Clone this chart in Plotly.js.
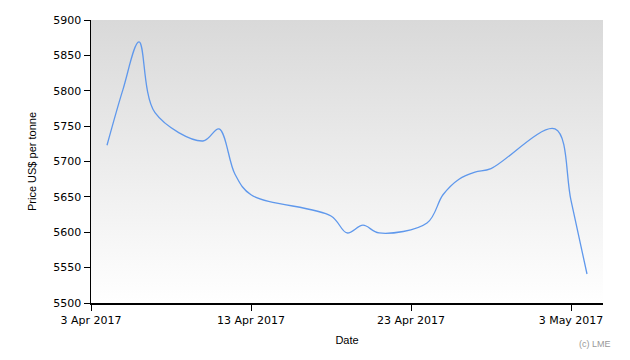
<!DOCTYPE html>
<html>
<head>
<meta charset="utf-8">
<script src="https://cdn.plot.ly/plotly-3.0.1.min.js"></script>
<style>html,body{margin:0;padding:0;background:#fff;}#chart{width:630px;height:360px;}</style>
</head>
<body>
<div id="chart"></div>
<script>
var dates = ['2017-04-04','2017-04-05','2017-04-06','2017-04-07','2017-04-10','2017-04-11','2017-04-12','2017-04-13',
             '2017-04-18','2017-04-19','2017-04-20','2017-04-21','2017-04-24','2017-04-25','2017-04-26','2017-04-27',
             '2017-04-28','2017-05-02','2017-05-03','2017-05-04'];
var prices = [5723, 5802, 5869, 5769, 5729, 5746, 5682, 5653,
              5623, 5599, 5610, 5599, 5613, 5653, 5675, 5685,
              5690, 5746, 5645, 5541];
var xTickStart = '2017-04-03';
var xRange = ['2017-04-03', '2017-05-05'];
var yRange = [5500, 5900];

var grad = 'data:image/svg+xml;charset=utf-8,' + encodeURIComponent(
  '<svg xmlns="http://www.w3.org/2000/svg" width="10" height="100" preserveAspectRatio="none">' +
  '<defs><linearGradient id="g" x1="0" y1="0" x2="0" y2="1">' +
  '<stop offset="0" stop-color="#d9d9d9"/><stop offset="1" stop-color="#ffffff"/></linearGradient></defs>' +
  '<rect width="10" height="100" fill="url(#g)"/></svg>');

var trace = {
  x: dates, y: prices, type: 'scatter', mode: 'lines',
  line: {color: '#5f98ec', width: 1.3, shape: 'spline', smoothing: 1},
  hoverinfo: 'x+y'
};

var layout = {
  width: 630, height: 360,
  margin: {l: 91, r: 27, t: 20, b: 57},
  paper_bgcolor: '#ffffff',
  plot_bgcolor: 'rgba(0,0,0,0)',
  showlegend: false,
  font: {family: 'DejaVu Sans, Verdana, sans-serif', size: 11, color: '#000'},
  images: [{source: grad, xref: 'paper', yref: 'paper', x: 0, y: 1, sizex: 1, sizey: 1,
            sizing: 'stretch', layer: 'below', xanchor: 'left', yanchor: 'top'}],
  xaxis: {
    type: 'date', range: xRange, tick0: xTickStart, dtick: 864000000,
    tickformat: '%-d %b %Y', showgrid: false, zeroline: false,
    showline: true, linecolor: '#000', linewidth: 1.5,
    ticks: 'outside', ticklen: 6, tickcolor: '#000', tickwidth: 1,
    tickfont: {family: 'DejaVu Sans, Verdana, sans-serif', size: 11, color: '#000'},
    title: {text: 'Date', font: {family: 'Liberation Sans, Arial, sans-serif', size: 11, color: '#000'}, standoff: 10}
  },
  yaxis: {
    range: yRange, dtick: 50, showgrid: false, zeroline: false,
    showline: true, linecolor: '#000', linewidth: 1.5,
    ticks: 'outside', ticklen: 6, tickcolor: '#000', tickwidth: 1,
    tickfont: {family: 'DejaVu Sans, Verdana, sans-serif', size: 11, color: '#000'},
    title: {text: 'Price US$ per tonne', font: {family: 'Liberation Sans, Arial, sans-serif', size: 11, color: '#000'}, standoff: 14}
  },
  annotations: [{
    text: '(c) LME', xref: 'paper', yref: 'paper', x: 1.02, y: -0.145,
    xanchor: 'right', yanchor: 'middle', showarrow: false,
    font: {family: 'Liberation Sans, Arial, sans-serif', size: 9, color: '#999999'}
  }]
};

Plotly.newPlot('chart', [trace], layout, {displayModeBar: false, staticPlot: true});
</script>
</body>
</html>
